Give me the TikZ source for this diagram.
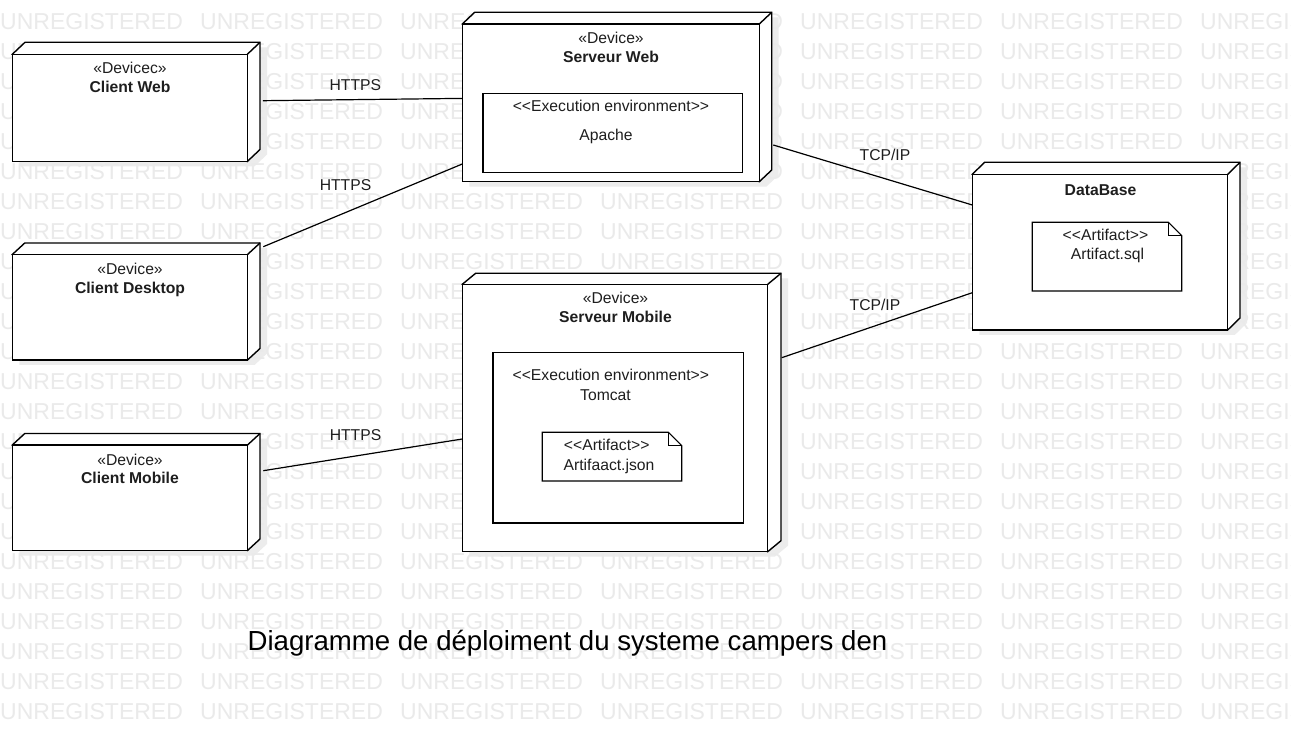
\documentclass[tikz,border=0pt]{standalone}
\usepackage{fontspec}
\setmainfont{Liberation Sans}
\definecolor{wmc}{RGB}{234,234,234}
\definecolor{shadowc}{RGB}{236,236,236}
\definecolor{txtc}{RGB}{30,30,30}
\newcommand\dlt{<\kern0pt<}
\newcommand\dgt{>\kern0pt>}
\tikzset{
  boxline/.style={draw=black, line width=1.4pt, line join=miter},
  thinline/.style={draw=black, line width=1.2pt},
  conn/.style={draw=black, line width=1.2pt},
  txt/.style={inner sep=0pt, anchor=base, text=txtc, font=\fontsize{15.7}{18}\selectfont},
  btxt/.style={inner sep=0pt, anchor=base, text=txtc, font=\fontsize{15.7}{18}\selectfont\bfseries},
  wm/.style={inner sep=0pt, anchor=base west, text=wmc, font=\fontsize{23}{23}\selectfont},
  ttl/.style={inner sep=0pt, anchor=base, text=black, font=\fontsize{27.6}{30}\selectfont},
}
% shadow of a 3D node: x1 y1 x2 y2 dx dy
\newcommand\devshadow[6]{%
  \fill[shadowc] (#1+7,#2+5) -- (#1+7+#5,#2+5-#6) -- (#3+7+#5,#2+5-#6) -- (#3+7+#5,#4+5-#6) -- (#3+7,#4+5) -- (#1+7,#4+5) -- cycle;}
% 3D node: name x1 y1 x2 y2 dx dy
\newcommand\devbox[7]{%
  \filldraw[boxline, fill=white] (#2,#3) -- (#2+#6,#3-#7) -- (#4+#6,#3-#7) -- (#4+#6,#5-#7) -- (#4,#5) -- cycle;
  \node[boxline, fill=white, inner sep=0pt, outer sep=0pt, anchor=north west,
        minimum width={#4-#2}, minimum height={#5-#3}] (#1) at (#2,#3) {};
  \draw[boxline] (#1.north east) -- ++(#6,-#7);}
% artifact: name x1 y1 x2 y2 fold
\newcommand\artbox[6]{%
  \filldraw[thinline, fill=white] (#2,#3) -- (#4-#6,#3) -- (#4,#3+#6) -- (#4,#5) -- (#2,#5) -- cycle;
  \draw[thinline] (#4-#6,#3) -- (#4-#6,#3+#6) -- (#4,#3+#6);
  \node[inner sep=0pt, outer sep=0pt, anchor=north west,
        minimum width={#4-#2}, minimum height={#5-#3}] (#1) at (#2,#3) {};}
\begin{document}
\begin{tikzpicture}[x=1pt,y=-1pt]
\useasboundingbox (0,0) rectangle (1291,743);
\fill[white] (0,0) rectangle (1291,743);
% shadows
\devshadow{12.3}{54.3}{247.3}{161.5}{12.7}{12}
\devshadow{12.3}{254.5}{247.5}{360}{12.5}{11.5}
\devshadow{12.3}{445}{247.5}{550.5}{12.5}{11.5}
\devshadow{462.3}{24}{759.3}{181.7}{12.4}{11.7}
\devshadow{462.3}{284.3}{767.7}{551.7}{13.3}{11}
\devshadow{972.3}{174.3}{1227.7}{330}{12.3}{12}
% watermark
\begin{scope}
\clip (0,0) rectangle (1291,743);
\foreach \r in {0,...,23}{
  \foreach \c in {0,...,6}{
    \node[wm] (wm-\r-\c) at (200*\c,29.3+30*\r) {UNREGISTERED};
  }
}
\end{scope}
% nodes
\devbox{cw}{12.3}{54.3}{247.3}{161.5}{12.7}{12}
\devbox{cd}{12.3}{254.5}{247.5}{360}{12.5}{11.5}
\devbox{cm}{12.3}{445}{247.5}{550.5}{12.5}{11.5}
\devbox{sw}{462.3}{24}{759.3}{181.7}{12.4}{11.7}
\devbox{sm}{462.3}{284.3}{767.7}{551.7}{13.3}{11}
\devbox{db}{972.3}{174.3}{1227.7}{330}{12.3}{12}
% inner boxes
\node[thinline, fill=white, inner sep=0pt, anchor=north west, minimum width=259.4, minimum height=79] (swenv) at (482.3,92.7) {};
\node[thinline, fill=white, inner sep=0pt, anchor=north west, minimum width=250.4, minimum height=170] (smenv) at (492.3,352.3) {};
\artbox{dbart}{1032.3}{222.3}{1181.7}{291}{13.3}
\artbox{smart}{542.3}{432.3}{681.7}{481}{13.3}
% texts
\node[txt] (cwS) at (130,73.3) {«Devicec»};
\node[btxt] (cwN) at (130,92.2) {Client Web};
\node[txt] (cdS) at (130,275) {«Device»};
\node[btxt] (cdN) at (130,293.3) {Client Desktop};
\node[txt] (cmS) at (130,465) {«Device»};
\node[btxt] (cmN) at (130,483.3) {Client Mobile};
\node[txt] (swS) at (611,43.3) {«Device»};
\node[btxt] (swN) at (611,62.3) {Serveur Web};
\node[txt] (swE) at (611,111.5) {\dlt Execution environment\dgt};
\node[txt] (swA) at (606,140.7) {Apache};
\node[txt] (smS) at (615.5,304) {«Device»};
\node[btxt] (smN) at (615.5,322.3) {Serveur Mobile};
\node[txt] (smE) at (610.8,380.7) {\dlt Execution environment\dgt};
\node[txt] (smT) at (605.5,400.7) {Tomcat};
\node[txt] (smaS) at (606.7,450.7) {\dlt Artifact\dgt};
\node[txt] (smaN) at (609,470) {Artifaact.json};
\node[btxt] (dbN) at (1100.5,195.7) {DataBase};
\node[txt] (dbaS) at (1105.5,240.7) {\dlt Artifact\dgt};
\node[txt] (dbaN) at (1107.5,260) {Artifact.sql};
% connectors
\draw[conn] ([shift={(15.5,-7.2)}]cw.east) -- ([shift={(0,-4.45)}]sw.west);
\draw[conn] ([shift={(15.8,-7.8)}]cd.north east) -- ([shift={(0,-17.7)}]sw.south west);
\draw[conn] ([shift={(15.8,25.7)}]cm.north east) -- ([shift={(0,21)}]sm.west);
\draw[conn] ([shift={(14,42.15)}]sw.east) -- ([shift={(0,-47.15)}]db.west);
\draw[conn] ([shift={(14,-60.3)}]sm.east) -- ([shift={(0,40.55)}]db.west);
% connector labels
\node[txt] (l1) at (355.3,90.7) {HTTPS};
\node[txt] (l2) at (345.5,190.7) {HTTPS};
\node[txt] (l3) at (355.5,440) {HTTPS};
\node[txt] (l4) at (885,161) {TCP/IP};
\node[txt] (l5) at (875,311) {TCP/IP};
% title
\node[ttl] (title) at (567.5,650.7) {Diagramme de déploiment du systeme campers den};
\end{tikzpicture}
\end{document}
